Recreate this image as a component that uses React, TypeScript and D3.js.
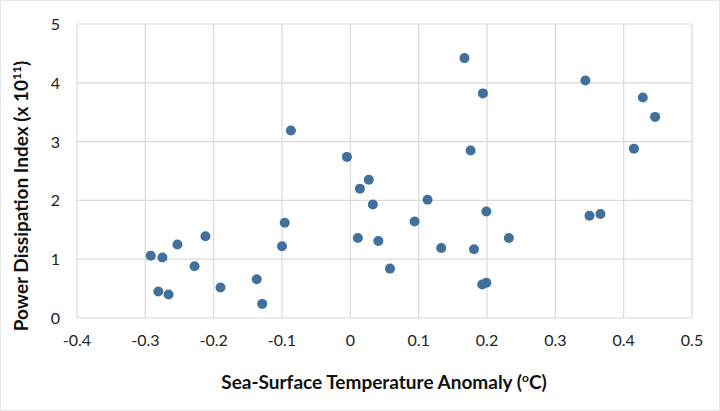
import React from "react";
import * as d3 from "d3";

// Sea-surface temperature anomaly (°C) for each season
const sstAnomaly: number[] = [
  -0.087, -0.005, 0.014, 0.167, 0.194, 0.344, 0.428, 0.446, 0.176, 0.415,
  0.027, 0.113, 0.011, -0.096, -0.1, -0.212, -0.253, -0.292, -0.275, -0.228,
  -0.281, -0.266, -0.19, -0.137, -0.129, 0.033, 0.199, 0.094, 0.041, 0.232,
  0.133, 0.181, 0.058, 0.193, 0.199, 0.35, 0.366,
];

// Power dissipation index (x 10^11) for the same seasons
const pdi: number[] = [
  3.19, 2.74, 2.2, 4.42, 3.82, 4.04, 3.75, 3.42, 2.85, 2.88,
  2.35, 2.01, 1.36, 1.62, 1.22, 1.39, 1.25, 1.06, 1.03, 0.88,
  0.45, 0.4, 0.52, 0.66, 0.24, 1.93, 1.81, 1.64, 1.31, 1.36,
  1.19, 1.17, 0.84, 0.57, 0.6, 1.74, 1.77,
];

const xTicks: number[] = [-0.4, -0.3, -0.2, -0.1, 0, 0.1, 0.2, 0.3, 0.4, 0.5];
const yTicks: number[] = [0, 1, 2, 3, 4, 5];

const W = 720;
const H = 411;
const margin = { left: 77, right: 28, top: 24, bottom: 93 };
const FONT = "Lato, 'Open Sans', sans-serif";

export default function App() {
  const x = d3
    .scaleLinear()
    .domain([-0.4, 0.5])
    .range([margin.left, W - margin.right]);
  const y = d3
    .scaleLinear()
    .domain([0, 5])
    .range([H - margin.bottom, margin.top]);

  const points = sstAnomaly.map((v, i) => ({ x: v, y: pdi[i] }));
  // plain hyphen for negatives, as in spreadsheet-style labels
  const fmt = (v: number) => (v === 0 ? "0" : String(+v.toFixed(1)));

  return (
    <svg
      width={W}
      height={H}
      style={{ position: "absolute", left: 0, top: 0, background: "#fff" }}
    >
      <rect x={0.5} y={0.5} width={W - 1} height={H - 1} fill="#fff" stroke="#e8e8e8" />
      {/* gridlines */}
      <g stroke="#d9d9d9" strokeWidth={1.2}>
        {xTicks.map((t) => (
          <line key={"gx" + t} x1={x(t)} x2={x(t)} y1={y(0)} y2={y(5)} />
        ))}
        {yTicks.map((t) => (
          <line key={"gy" + t} x1={x(-0.4)} x2={x(0.5)} y1={y(t)} y2={y(t)} />
        ))}
      </g>
      {/* tick labels */}
      <g fontFamily={FONT} fontSize={16} fill="#222">
        {xTicks.map((t) => (
          <text key={"tx" + t} x={x(t)} y={y(0) + 28} textAnchor="middle">
            {fmt(t)}
          </text>
        ))}
        {yTicks.map((t) => (
          <text key={"ty" + t} x={x(-0.4) - 17} y={y(t) + 6} textAnchor="end">
            {t}
          </text>
        ))}
      </g>
      {/* points */}
      <g fill="#41709c">
        {points.map((p, i) => (
          <circle key={i} cx={x(p.x)} cy={y(p.y)} r={5} />
        ))}
      </g>
      {/* axis titles */}
      <text
        x={384}
        y={389}
        textAnchor="middle"
        fontFamily={FONT}
        fontWeight="bold"
        fontSize={19}
        fill="#111"
      >
        Sea-Surface Temperature Anomaly (
        <tspan fontSize={12} dy={-7}>o</tspan>
        <tspan dy={7}>C)</tspan>
      </text>
      <text
        transform={`translate(28, 196) rotate(-90)`}
        textAnchor="middle"
        fontFamily={FONT}
        fontWeight="bold"
        fontSize={19}
        fill="#111"
      >
        Power Dissipation Index (x 10
        <tspan fontSize={12} dy={-7}>11</tspan>
        <tspan dy={7}>)</tspan>
      </text>
    </svg>
  );
}
